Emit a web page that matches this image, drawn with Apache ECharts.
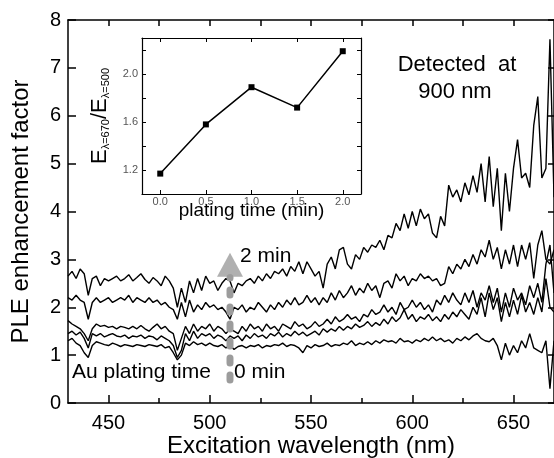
<!DOCTYPE html>
<html><head><meta charset="utf-8">
<script src="https://cdn.jsdelivr.net/npm/echarts@6/dist/echarts.min.js"></script>
<style>html,body{margin:0;padding:0;background:#fff}#c{width:554px;height:458px}</style>
</head><body><div id="c"></div>
<script>
const FONT = '"Liberation Sans", Arial, sans-serif';

const wavelengths = [
 430,432,434,436,438,440,442,444,446,448,
 450,452,454,456,458,460,462,464,466,468,
 470,472,474,476,478,480,482,484,486,488,
 490,492,494,496,498,500,502,504,506,508,
 510,512,514,516,518,520,522,524,526,528,
 530,532,534,536,538,540,542,544,546,548,
 550,552,554,556,558,560,562,564,566,568,
 570,572,574,576,578,580,582,584,586,588,
 590,592,594,596,598,600,602,604,606,608,
 610,612,614,616,618,620,622,624,626,628,
 630,632,634,636,638,640,642,644,646,648,
 650,652,654,656,658,660,662,664,666,668,
 670];

const ple2min = [
 2.65,2.75,2.6,2.8,2.7,2.25,2.6,2.65,2.45,2.6,
 2.55,2.6,2.65,2.55,2.6,2.68,2.55,2.62,2.7,2.58,
 2.5,2.62,2.55,2.45,2.65,2.55,2.4,2.0,2.4,2.1,
 2.55,2.3,2.6,2.35,2.65,2.5,2.55,2.35,2.5,2.6,
 2.55,2.3,2.5,2.45,2.55,2.6,2.5,2.65,2.55,2.7,
 2.6,2.75,2.7,2.8,2.65,2.85,2.75,2.95,2.7,2.95,
 2.8,2.65,2.75,2.4,2.9,3.05,2.8,3.2,3.25,2.9,
 2.8,3.1,3.0,3.25,3.15,3.3,3.25,3.4,3.2,3.5,
 3.45,3.75,3.6,3.95,3.65,4.0,3.7,4.05,3.85,3.95,
 3.55,3.45,3.9,3.7,4.55,4.3,4.45,4.2,4.6,4.35,
 4.75,4.4,5.0,4.2,5.15,4.1,4.9,3.6,4.8,4.0,
 4.9,5.5,4.7,4.8,4.5,5.8,6.4,4.7,4.9,7.6,
 4.3];

const ple15min = [
 2.2,2.15,2.25,2.15,2.1,1.75,2.1,2.2,2.1,2.15,
 2.2,2.1,2.15,2.2,2.15,2.25,2.1,2.2,2.15,2.1,
 2.2,2.1,2.15,2.05,2.1,2.0,1.95,1.75,2.1,1.8,
 2.15,1.9,2.05,1.95,2.1,2.0,2.05,1.95,2.0,1.9,
 1.75,2.0,1.95,2.05,1.9,2.0,1.95,2.1,2.0,1.9,
 2.05,1.95,2.1,2.0,2.15,2.05,2.2,2.05,2.1,2.25,
 2.1,2.2,2.05,2.2,2.1,2.3,2.15,2.35,2.2,2.3,
 2.45,2.25,2.4,2.3,2.5,2.35,2.45,2.2,2.5,2.55,
 2.4,2.7,2.55,2.65,2.45,2.6,2.55,2.7,2.6,2.65,
 2.55,2.6,2.45,2.5,2.85,2.7,2.9,2.8,3.0,2.85,
 3.1,2.9,3.2,3.05,3.4,3.0,3.25,2.8,3.2,2.9,
 3.3,2.85,3.3,3.0,3.35,2.6,3.3,3.6,3.0,2.9,
 3.2];

const ple1min = [
 1.72,1.65,1.6,1.55,1.45,1.3,1.55,1.65,1.6,1.62,
 1.58,1.6,1.55,1.6,1.58,1.55,1.6,1.55,1.62,1.55,
 1.5,1.58,1.65,1.55,1.6,1.5,1.45,1.1,1.35,1.6,
 1.45,1.65,1.5,1.6,1.55,1.65,1.5,1.6,1.55,1.45,
 1.55,1.5,1.45,1.6,1.5,1.65,1.55,1.6,1.5,1.65,
 1.55,1.6,1.5,1.65,1.6,1.55,1.7,1.6,1.65,1.55,
 1.6,1.7,1.6,1.65,1.75,1.65,1.8,1.7,1.75,1.85,
 1.75,1.8,1.7,1.85,1.8,1.95,1.85,1.9,2.05,1.9,
 2.0,1.85,2.1,1.95,2.0,2.15,2.0,2.1,1.95,2.05,
 1.9,2.15,2.05,2.25,2.1,2.3,2.15,2.05,2.3,2.1,
 2.35,2.0,2.3,2.15,2.45,2.1,2.4,1.9,2.3,2.0,
 2.4,2.15,2.3,2.05,2.45,2.2,2.5,2.1,2.9,3.3,
 2.3];

const ple05min = [
 1.45,1.5,1.42,1.48,1.35,1.15,1.45,1.4,1.45,1.38,
 1.42,1.45,1.4,1.38,1.42,1.35,1.4,1.38,1.42,1.35,
 1.4,1.38,1.32,1.4,1.35,1.3,1.2,0.95,1.1,1.45,
 1.3,1.5,1.35,1.45,1.4,1.45,1.35,1.42,1.38,1.3,
 1.4,1.35,1.4,1.3,1.42,1.35,1.45,1.38,1.42,1.35,
 1.45,1.4,1.48,1.38,1.45,1.4,1.5,1.42,1.48,1.4,
 1.45,1.5,1.42,1.55,1.48,1.55,1.5,1.6,1.52,1.6,
 1.55,1.65,1.58,1.62,1.7,1.6,1.68,1.62,1.75,1.65,
 1.8,1.7,1.78,1.95,1.75,1.85,1.7,1.8,1.75,1.85,
 1.72,1.8,1.7,1.85,1.75,1.9,1.8,1.95,1.85,1.75,
 2.0,1.85,2.2,1.8,2.3,1.95,2.2,1.7,2.1,1.8,
 2.15,1.85,2.25,1.9,2.1,1.85,2.2,1.9,2.6,2.0,
 1.9];

const ple0min = [
 1.3,1.35,1.25,1.2,1.05,0.95,1.2,1.28,1.25,1.22,
 1.2,1.25,1.22,1.18,1.22,1.2,1.18,1.22,1.2,1.18,
 1.22,1.2,1.18,1.22,1.15,1.18,1.05,0.9,1.0,1.25,
 1.2,1.28,1.22,1.25,1.2,1.25,1.2,1.18,1.22,1.15,
 1.2,1.12,1.18,1.2,1.15,1.2,1.18,1.22,1.15,1.2,
 1.18,1.22,1.2,1.25,1.18,1.22,1.2,1.15,1.05,1.2,
 1.15,1.22,1.18,1.2,1.25,1.18,1.22,1.2,1.25,1.22,
 1.3,1.2,1.25,1.22,1.28,1.22,1.3,1.25,1.32,1.28,
 1.3,1.25,1.35,1.28,1.3,1.25,1.32,1.28,1.35,1.3,
 1.38,1.3,1.35,1.28,1.32,1.25,1.35,1.3,1.38,1.32,
 1.4,1.45,1.35,1.3,1.28,1.35,1.2,0.9,1.25,1.0,
 1.2,1.05,1.3,1.15,1.45,1.15,1.1,1.05,1.3,0.3,
 1.3];

const insetTimes = [0.0, 0.5, 1.0, 1.5, 2.0];
const insetRatio = [1.17, 1.58, 1.89, 1.72, 2.19];

const xTickValues = [450, 500, 550, 600, 650];
const xMinorTickValues = [475, 525, 575, 625];
const xTopTickValues = [450, 475, 500, 525, 550, 575, 600, 625, 650];
const insetXTickValues = [0.0, 0.5, 1.0, 1.5, 2.0];
const insetYLabelValues = [1.2, 1.6, 2.0];
const insetYTickValues = [1.2, 1.4, 1.6, 1.8, 2.0, 2.2];

const arrowX = 510, arrowFrom = 0.48, arrowTo = 2.62, arrowHeadY = 2.89;

const plotSeries = [ple2min, ple15min, ple1min, ple05min, ple0min];

function ls(w) { return {color: '#000', width: w}; }
const chart = echarts.init(document.getElementById('c'), null, {renderer: 'canvas'});

const series = plotSeries.map(arr => ({
  type: 'line', xAxisIndex: 0, yAxisIndex: 0,
  data: wavelengths.map((w, i) => [w, arr[i]]),
  showSymbol: false, symbol: 'none',
  lineStyle: {color: '#000', width: 1.4}, z: 3
}));
series.push({
  type: 'line', xAxisIndex: 0, yAxisIndex: 0,
  data: [[arrowX, arrowFrom], [arrowX, arrowTo]],
  showSymbol: false, symbol: 'none',
  lineStyle: {color: '#9c9c9c', width: 7, type: [5, 12], cap: 'round'}, z: 5
});
series.push({
  type: 'scatter', xAxisIndex: 0, yAxisIndex: 0,
  data: [[arrowX, arrowHeadY]],
  symbol: 'triangle', symbolSize: [26, 24],
  itemStyle: {color: '#9c9c9c'}, z: 5
});
series.push({
  type: 'line', xAxisIndex: 3, yAxisIndex: 2,
  data: insetTimes.map((t, i) => [t, insetRatio[i]]),
  symbol: 'rect', symbolSize: 6, showSymbol: true,
  itemStyle: {color: '#000'},
  lineStyle: {color: '#000', width: 1.5}, z: 12
});

function axisBase(extra) {
  return Object.assign({type: 'value', z: 10, splitLine: {show: false}, nameMoveOverlap: false}, extra);
}

const option = {
  animation: false,
  backgroundColor: '#fff',
  grid: [
    {left: 68, top: 20, right: 0, bottom: 55, outerBoundsMode: 'none', containLabel: false},
    {left: 142, top: 38, width: 219, height: 156, show: true, backgroundColor: '#fff', borderWidth: 0,
     outerBoundsMode: 'none', containLabel: false, z: 8}
  ],
  xAxis: [
    axisBase({gridIndex: 0, min: 430, max: 670, position: 'bottom',
     axisLine: {show: true, onZero: false, lineStyle: ls(1.5)},
     axisTick: {show: true, inside: true, length: 8, customValues: xTickValues, lineStyle: ls(1.5)},
     axisLabel: {show: true, customValues: xTickValues, fontSize: 20, color: '#000', fontFamily: FONT, margin: 10},
     name: 'Excitation wavelength (nm)', nameLocation: 'middle', nameGap: 31,
     nameTextStyle: {fontSize: 24, color: '#000', fontFamily: FONT}}),
    axisBase({gridIndex: 0, min: 430, max: 670, position: 'bottom',
     axisLine: {show: false, onZero: false},
     axisTick: {show: true, inside: true, length: 5, customValues: xMinorTickValues, lineStyle: ls(1.5)},
     axisLabel: {show: false}}),
    axisBase({gridIndex: 0, min: 430, max: 670, position: 'top',
     axisLine: {show: true, onZero: false, lineStyle: ls(1.5)},
     axisTick: {show: true, inside: true, length: 6, customValues: xTopTickValues, lineStyle: ls(1.5)},
     axisLabel: {show: false}}),
    axisBase({gridIndex: 1, min: -0.2, max: 2.2, position: 'bottom', z: 12,
     axisLine: {show: true, onZero: false, lineStyle: ls(1.2)},
     axisTick: {show: true, inside: true, length: 4, customValues: insetXTickValues, lineStyle: ls(1)},
     axisLabel: {show: true, customValues: insetXTickValues, fontSize: 11, color: '#555', fontFamily: FONT, margin: 2,
                 formatter: v => v.toFixed(1)},
     name: 'plating time (min)', nameLocation: 'middle', nameGap: 7,
     nameTextStyle: {fontSize: 19, color: '#000', fontFamily: FONT, verticalAlign: 'top'}}),
    axisBase({gridIndex: 1, min: -0.2, max: 2.2, position: 'top', z: 12,
     axisLine: {show: true, onZero: false, lineStyle: ls(1.2)},
     axisTick: {show: true, inside: true, length: 4, customValues: insetXTickValues, lineStyle: ls(1)},
     axisLabel: {show: false}})
  ],
  yAxis: [
    axisBase({gridIndex: 0, min: 0, max: 8, interval: 1, position: 'left',
     axisLine: {show: true, onZero: false, lineStyle: ls(1.5)},
     axisTick: {show: true, inside: true, length: 8, lineStyle: ls(1.5)},
     axisLabel: {show: true, fontSize: 20, color: '#000', fontFamily: FONT, margin: 7},
     name: 'PLE enhancement factor', nameLocation: 'middle', nameGap: 35,
     nameTextStyle: {fontSize: 24, color: '#000', fontFamily: FONT}}),
    axisBase({gridIndex: 0, min: 0, max: 8, interval: 1, position: 'right',
     axisLine: {show: true, onZero: false, lineStyle: ls(1.5)},
     axisTick: {show: true, inside: true, length: 6, lineStyle: ls(1.5)},
     axisLabel: {show: false}}),
    axisBase({gridIndex: 1, min: 1.0, max: 2.3, position: 'left', z: 12,
     axisLine: {show: true, onZero: false, lineStyle: ls(1.2)},
     axisTick: {show: true, inside: true, length: 4, customValues: insetYTickValues, lineStyle: ls(1)},
     axisLabel: {show: true, customValues: insetYLabelValues, fontSize: 11, color: '#555', fontFamily: FONT, margin: 4,
                 formatter: v => v.toFixed(1)},
     name: '{e|E}{s|λ=670}{e|/E}{s|λ=500}', nameLocation: 'middle', nameGap: 31,
     nameTextStyle: {color: '#000', fontFamily: FONT,
       rich: {e: {fontSize: 22, fontFamily: FONT, color: '#000'},
              s: {fontSize: 11, fontFamily: FONT, color: '#000', verticalAlign: 'bottom'}}}}),
    axisBase({gridIndex: 1, min: 1.0, max: 2.3, position: 'right', z: 12,
     axisLine: {show: true, onZero: false, lineStyle: ls(1.2)},
     axisTick: {show: true, inside: true, length: 4, customValues: insetYTickValues, lineStyle: ls(1)},
     axisLabel: {show: false}})
  ],
  graphic: [
    {type: 'text', x: 457, y: 65, z: 20, style: {text: 'Detected  at', font: '22px ' + FONT, fill: '#000', align: 'center', verticalAlign: 'middle'}},
    {type: 'text', x: 455, y: 92, z: 20, style: {text: '900 nm', font: '22px ' + FONT, fill: '#000', align: 'center', verticalAlign: 'middle'}},
    {type: 'text', x: 240, y: 256, z: 20, style: {text: '2 min', font: '21px ' + FONT, fill: '#000', align: 'left', verticalAlign: 'middle'}},
    {type: 'text', x: 234, y: 372, z: 20, style: {text: '0 min', font: '21px ' + FONT, fill: '#000', align: 'left', verticalAlign: 'middle'}},
    {type: 'text', x: 72, y: 372, z: 20, style: {text: 'Au plating time', font: '21px ' + FONT, fill: '#000', align: 'left', verticalAlign: 'middle'}}
  ],
  series: series
};
chart.setOption(option);
</script>
</body></html>
